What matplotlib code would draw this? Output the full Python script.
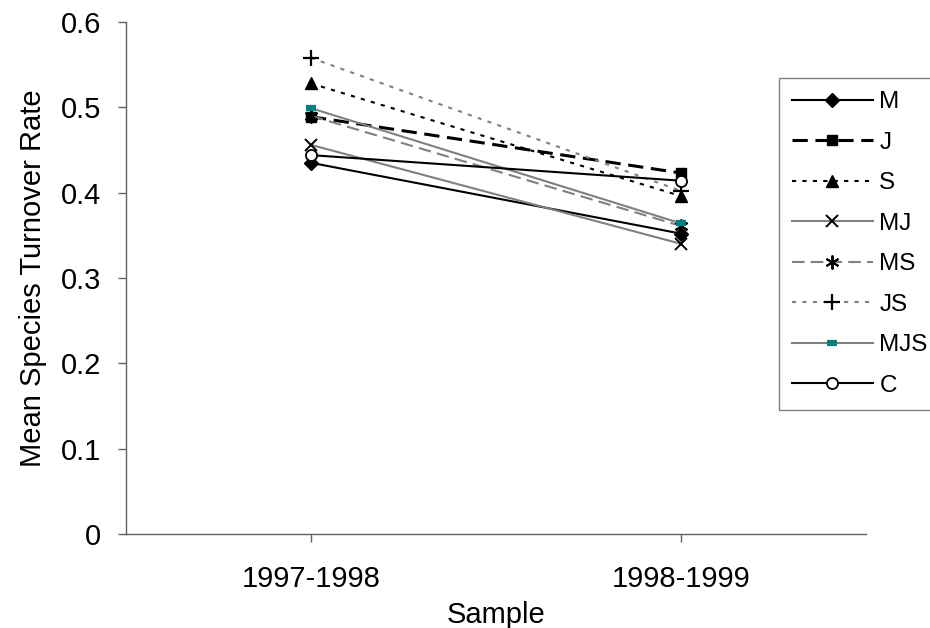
import matplotlib
matplotlib.use("Agg")
import matplotlib.pyplot as plt
import numpy as np

plt.rcParams['font.family'] = ['Liberation Sans', 'DejaVu Sans']

samples = ['1997-1998', '1998-1999']
series_names = ['M', 'J', 'S', 'MJ', 'MS', 'JS', 'MJS', 'C']
M = [0.435, 0.352]
J = [0.489, 0.423]
S = [0.528, 0.396]
MJ = [0.456, 0.340]
MS = [0.490, 0.361]
JS = [0.558, 0.402]
MJS = [0.499, 0.364]
C = [0.444, 0.414]
values = [M, J, S, MJ, MS, JS, MJS, C]

grey = '#808080'
styles = {
    'M':   dict(color='black', ls='-', lw=1.5, marker='D', ms=7, mfc='black', mec='black'),
    'J':   dict(color='black', ls=(0, (5, 2.5)), lw=2.2, marker='s', ms=7, mfc='black', mec='black'),
    'S':   dict(color='black', ls=(0, (2, 3)), lw=1.5, marker='^', ms=9, mfc='black', mec='black'),
    'MJ':  dict(color=grey, ls='-', lw=1.5, marker='x', ms=9, mfc='black', mec='black', mew=1.4),
    'MS':  dict(color=grey, ls=(0, (6, 3)), lw=1.5, marker=(6, 2, 0), ms=10, mfc='black', mec='black', mew=1.4),
    'JS':  dict(color=grey, ls=(0, (2, 3)), lw=1.5, marker='+', ms=11, mfc='black', mec='black', mew=1.6),
    'MJS': dict(color=grey, ls='-', lw=1.5, marker='_', ms=7, mfc='#008080', mec='#008080', mew=4.5),
    'C':   dict(color='black', ls='-', lw=1.5, marker='o', ms=8, mfc='white', mec='black', mew=1.3),
}

fig = plt.figure(figsize=(9.3, 6.28), dpi=100)
ax = fig.add_axes([126 / 930, 1 - 534 / 628, 740 / 930, 512 / 628])

x = np.arange(len(samples))
for name, vals in zip(series_names, values):
    ax.plot(x, vals, label=name, **styles[name])

ax.set_xlim(-0.5, 1.5)
ax.set_ylim(0, 0.6)
ax.set_yticks(np.arange(0, 0.61, 0.1))
ax.set_yticklabels(['0', '0.1', '0.2', '0.3', '0.4', '0.5', '0.6'])
ax.set_xticks(x)
ax.set_xticklabels(samples)

for side in ['top', 'right']:
    ax.spines[side].set_visible(False)
for side in ['left', 'bottom']:
    ax.spines[side].set_color('#606060')
    ax.spines[side].set_linewidth(1.0)

ax.tick_params(axis='both', which='major', labelsize=21, length=6, color='#606060', width=1)
ax.tick_params(axis='x', pad=16)
ax.tick_params(axis='y', pad=12)

ax.set_xlabel('Sample', fontsize=21, labelpad=6)
ax.set_ylabel('Mean Species Turnover Rate', fontsize=21, labelpad=10)

leg = fig.legend(loc='upper left', bbox_to_anchor=(779 / 930, 1 - 78 / 628),
                 fontsize=17.5, frameon=True, fancybox=False, handlelength=3.3,
                 handletextpad=0.28, labelspacing=0.76, borderpad=0.55,
                 borderaxespad=0)
leg.get_frame().set_edgecolor('#606060')
leg.get_frame().set_linewidth(1.0)

fig.savefig('out.png', dpi=100)
